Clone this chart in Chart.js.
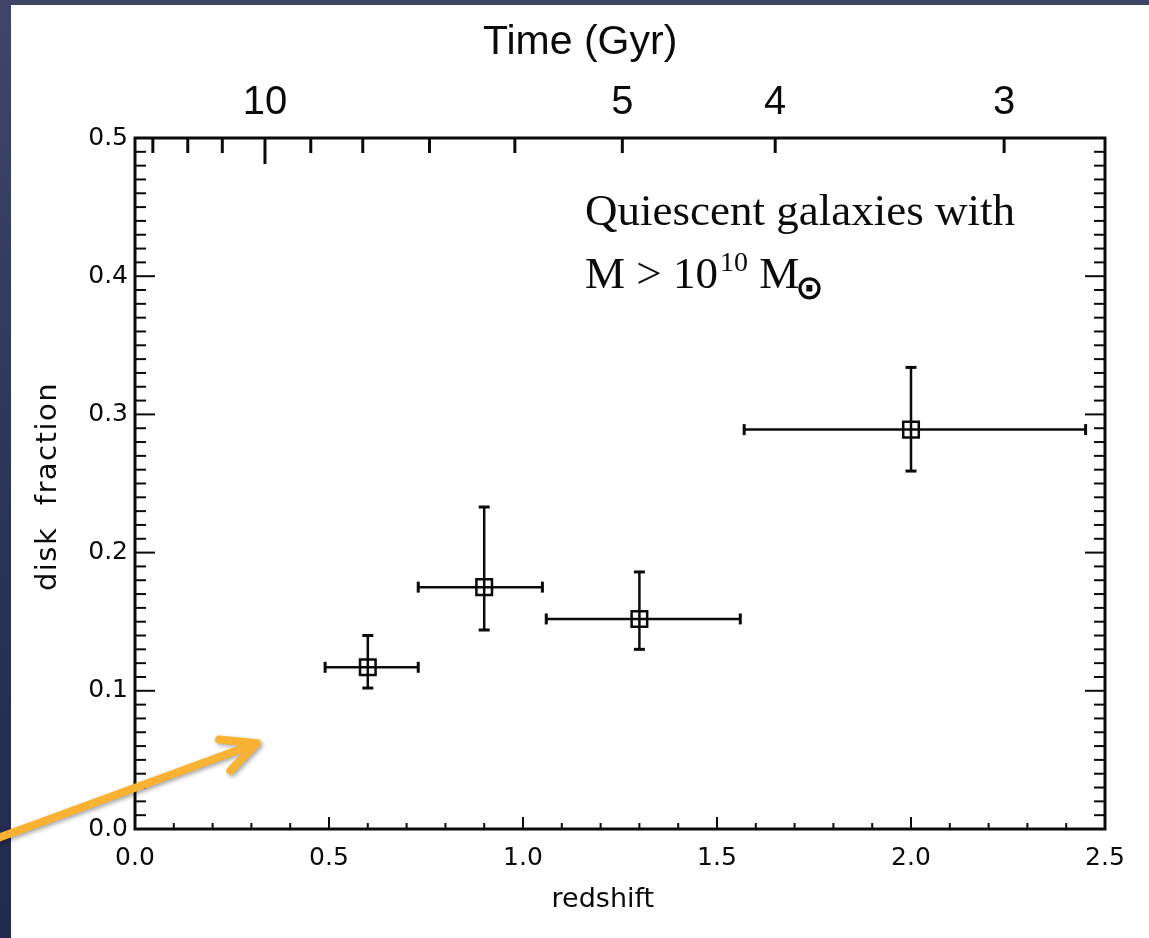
<!DOCTYPE html>
<html>
<head>
<meta charset="utf-8">
<script src="https://cdn.jsdelivr.net/npm/chart.js@4.4.1/dist/chart.umd.min.js"></script>
<style>
  html, body { margin: 0; padding: 0; }
  body { width: 1149px; height: 938px; overflow: hidden; position: relative;
         background: linear-gradient(180deg, #3f4668 0%, #2c3456 55%, #232b4c 100%); }
  #panel { position: absolute; left: 11px; top: 5px; right: 0; bottom: 0; background: #fff; }
  #chart { position: absolute; left: 0; top: 0; }
</style>
</head>
<body>
<div id="panel"></div>
<canvas id="chart" width="1149" height="938"></canvas>
<script>
// disk fraction of quiescent galaxies (M > 1e10 Msun) vs redshift
const redshift = [0.6, 0.9, 1.3, 2.0];
const diskFrac = [0.117, 0.175, 0.152, 0.289];
const zLow     = [0.49, 0.73, 1.06, 1.57];
const zHigh    = [0.73, 1.05, 1.56, 2.45];
const fracLow  = [0.102, 0.144, 0.130, 0.259];
const fracHigh = [0.140, 0.233, 0.186, 0.334];

// top axis: age of the universe (Gyr) at these redshifts
const ageTickZ   = [0.046, 0.136, 0.225, 0.335, 0.453, 0.587, 0.759, 0.979, 1.256, 1.65, 2.24];
const ageTickGyr = [13, 12, 11, 10, 9, 8, 7, 6, 5, 4, 3];
const ageLabeled = [10, 5, 4, 3];

// annotation anchors, in data units
const noteAt    = { z: 1.16, frac: 0.437 };
const arrowFrom = { z: -0.348, frac: -0.006 };
const arrowTo   = { z: 0.314, frac: 0.062 };

const ink = '#0a0a0a';
const tickFont = '"DejaVu Sans", sans-serif';
const sansFont = '"Liberation Sans", Arial, sans-serif';

function seg(ctx, x0, y0, x1, y1) {
  ctx.beginPath(); ctx.moveTo(x0, y0); ctx.lineTo(x1, y1); ctx.stroke();
}

// IDL-style frame: ticks point inward on all four sides
const idlFrame = {
  id: 'idlFrame',
  beforeDatasetsDraw(chart) {
    const ctx = chart.ctx;
    const { left, right, top, bottom } = chart.chartArea;
    const xs = chart.scales.x, ys = chart.scales.y, xt = chart.scales.xTop;
    ctx.save();
    ctx.strokeStyle = ink;

    ctx.lineWidth = 2;
    for (let i = 0; i <= 25; i++) {
      const px = xs.getPixelForValue(i / 10);
      seg(ctx, px, bottom, px, bottom - (i % 5 === 0 ? 12 : 6));
    }
    for (let i = 0; i <= 50; i++) {
      const py = ys.getPixelForValue(i / 100);
      const len = i % 10 === 0 ? 20 : 11;
      seg(ctx, left, py, left + len, py);
      seg(ctx, right, py, right - len, py);
    }
    ctx.lineWidth = 3;
    ageTickZ.forEach((z, i) => {
      const px = xt.getPixelForValue(z);
      seg(ctx, px, top, px, top + (ageTickGyr[i] === 10 ? 26 : 15));
    });
    ctx.strokeRect(left, top, right - left, bottom - top);

    // error bars
    redshift.forEach((z, i) => {
      const cx = xs.getPixelForValue(z), cy = ys.getPixelForValue(diskFrac[i]);
      const x0 = xs.getPixelForValue(zLow[i]), x1 = xs.getPixelForValue(zHigh[i]);
      const y0 = ys.getPixelForValue(fracLow[i]), y1 = ys.getPixelForValue(fracHigh[i]);
      ctx.lineWidth = 2.5;
      seg(ctx, x0, cy, x1, cy);
      seg(ctx, cx, y0, cx, y1);
      ctx.lineWidth = 3;
      seg(ctx, x0, cy - 5.5, x0, cy + 5.5);
      seg(ctx, x1, cy - 5.5, x1, cy + 5.5);
      seg(ctx, cx - 5.5, y0, cx + 5.5, y0);
      seg(ctx, cx - 5.5, y1, cx + 5.5, y1);
    });

    // y axis title, drawn here so it can be letter-spaced like the original
    ctx.save();
    ctx.translate(48, (top + bottom) / 2 + 3);
    ctx.rotate(-Math.PI / 2);
    ctx.fillStyle = ink;
    ctx.font = '29px ' + tickFont;
    ctx.letterSpacing = '1.5px';
    ctx.textAlign = 'center';
    ctx.textBaseline = 'middle';
    ctx.fillText('disk  fraction', 0, 0);
    ctx.restore();
    ctx.restore();
  },
  afterDraw(chart) {
    const ctx = chart.ctx;
    const xs = chart.scales.x, ys = chart.scales.y;
    ctx.save();
    ctx.fillStyle = ink;
    ctx.textAlign = 'left';
    ctx.textBaseline = 'alphabetic';
    let x = xs.getPixelForValue(noteAt.z);
    let y = ys.getPixelForValue(noteAt.frac);
    const big = '45px "Liberation Serif", serif', small = '28px "Liberation Serif", serif';
    ctx.font = big;
    ctx.fillText('Quiescent galaxies with', x, y);
    y += 63;
    ctx.fillText('M > 10', x, y);
    x += ctx.measureText('M > 10').width + 2;
    ctx.font = small;
    ctx.fillText('10', x, y - 17);
    x += ctx.measureText('10').width;
    ctx.font = big;
    ctx.fillText(' M', x, y);
    x += ctx.measureText(' M').width;
    ctx.font = 'bold 34px "DejaVu Sans", sans-serif';
    ctx.fillText('\u2299', x - 4, y + 11);

    // orange arrow
    const ax0 = xs.getPixelForValue(arrowFrom.z), ay0 = ys.getPixelForValue(arrowFrom.frac);
    const ax1 = xs.getPixelForValue(arrowTo.z), ay1 = ys.getPixelForValue(arrowTo.frac);
    const ang = Math.atan2(ay0 - ay1, ax0 - ax1);
    ctx.strokeStyle = '#F9B233';
    ctx.lineWidth = 8;
    ctx.lineCap = 'round';
    ctx.lineJoin = 'round';
    ctx.shadowColor = 'rgba(0,0,0,0.35)';
    ctx.shadowBlur = 4;
    ctx.shadowOffsetX = 2;
    ctx.shadowOffsetY = 2;
    ctx.beginPath();
    ctx.moveTo(ax0, ay0);
    ctx.lineTo(ax1 + 3 * Math.cos(ang), ay1 + 3 * Math.sin(ang));
    ctx.moveTo(ax1 + 38 * Math.cos(ang + 0.45), ay1 + 38 * Math.sin(ang + 0.45));
    ctx.lineTo(ax1, ay1);
    ctx.lineTo(ax1 + 38 * Math.cos(ang - 0.45), ay1 + 38 * Math.sin(ang - 0.45));
    ctx.stroke();
    ctx.restore();
  }
};

new Chart(document.getElementById('chart'), {
  type: 'scatter',
  data: {
    datasets: [{
      data: redshift.map((z, i) => ({ x: z, y: diskFrac[i] })),
      pointStyle: 'rect',
      radius: 11,
      borderColor: ink,
      borderWidth: 2.5,
      backgroundColor: 'rgba(0,0,0,0)'
    }]
  },
  options: {
    responsive: false,
    animation: false,
    events: [],
    layout: { padding: { left: 0, right: 44, top: 0, bottom: 0 } },
    plugins: { legend: { display: false }, tooltip: { enabled: false } },
    scales: {
      x: {
        type: 'linear', position: 'bottom', min: 0, max: 2.5,
        grid: { display: false, drawTicks: false }, border: { display: false },
        ticks: { stepSize: 0.5, padding: 14, maxRotation: 0, color: ink,
                 font: { family: tickFont, size: 25 }, callback: v => v.toFixed(1) },
        title: { display: true, text: 'redshift    ', color: ink, padding: 22,
                 font: { family: tickFont, size: 27 } },
        afterFit: s => { s.height = 109; }
      },
      xTop: {
        type: 'linear', position: 'top', min: 0, max: 2.5,
        grid: { display: false, drawTicks: false }, border: { display: false },
        afterBuildTicks: s => { s.ticks = ageTickZ.map(v => ({ value: v })); },
        ticks: { autoSkip: false, maxRotation: 0, padding: 11, color: ink,
                 font: { family: sansFont, size: 40 },
                 callback: (v, i) => ageLabeled.includes(ageTickGyr[i]) ? String(ageTickGyr[i]) : '' },
        title: { display: true, text: 'Time (Gyr)       ', color: ink, padding: 18,
                 font: { family: sansFont, size: 41 } },
        afterFit: s => { s.height = 138; }
      },
      y: {
        type: 'linear', position: 'left', min: 0, max: 0.5,
        grid: { display: false, drawTicks: false }, border: { display: false },
        ticks: { stepSize: 0.1, padding: 7, color: ink,
                 font: { family: tickFont, size: 25 }, callback: v => v.toFixed(1) },
        afterFit: s => { s.width = 135; }
      }
    }
  },
  plugins: [idlFrame]
});
</script>
</body>
</html>
